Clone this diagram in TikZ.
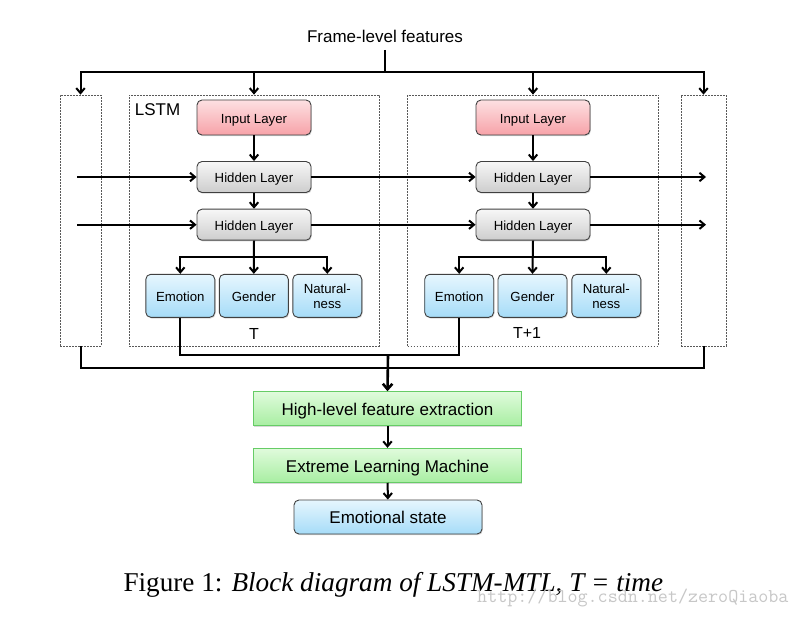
\documentclass[tikz,border=0pt]{standalone}
\usepackage{fontspec}
\setmainfont{Liberation Sans}
\newfontfamily\capfont{Liberation Serif}
\usetikzlibrary{arrows.meta,shadows}
\definecolor{pinkT}{HTML}{FDE0E2}
\definecolor{pinkB}{HTML}{F7A2A8}
\definecolor{grayT}{HTML}{F7F7F7}
\definecolor{grayB}{HTML}{CDCDCD}
\definecolor{blueT}{HTML}{E6F6FE}
\definecolor{blueB}{HTML}{A6DCF8}
\definecolor{greenT}{HTML}{E0FBDC}
\definecolor{greenB}{HTML}{A8EEA2}
\definecolor{greenD}{HTML}{66CC66}
\begin{document}
\begin{tikzpicture}[x=1pt,y=-1pt,
  box/.style={draw=black!75, line width=0.9pt, rounded corners=5pt, inner sep=0pt,
    align=center, font=\fontsize{13.2}{15}\selectfont,
    drop shadow={shadow xshift=0.8pt,shadow yshift=-1.2pt,opacity=0.3}},
  oneline/.style={text height=12.6pt, text depth=1pt},
  bigline/.style={text height=15pt, text depth=1pt},
  inbox/.style={box, oneline, top color=pinkT, bottom color=pinkB, minimum width=114pt, minimum height=35pt},
  hidbox/.style={box, oneline, top color=grayT, bottom color=grayB, minimum width=114pt, minimum height=31pt},
  taskbox/.style={box, top color=blueT, bottom color=blueB, minimum width=69pt, minimum height=43pt},
  greenbox/.style={box, bigline, draw=greenD, rounded corners=0pt, top color=greenT, bottom color=greenB,
    minimum width=268pt, minimum height=34pt, font=\fontsize{17}{20}\selectfont},
  outbox/.style={box, top color=blueT, bottom color=blueB, minimum width=188pt, minimum height=34pt,
    font=\fontsize{17}{20}\selectfont, text height=14pt, text depth=1.4pt},
  dframe/.style={draw=black!65, dash pattern=on 1.8pt off 1.2pt, line width=0.7pt,
    minimum height=251pt, inner sep=0pt},
  lbl/.style={font=\fontsize{17}{20}\selectfont, inner sep=0pt},
  ln/.style={line width=2pt},
  arr/.style={line width=2pt, -{Straight Barb[length=5pt,width=8.5pt]}},
]
\useasboundingbox[fill=white] (0,0) rectangle (799,617);

% dashed frames
\node[dframe, minimum width=41pt] (lbox) at (80.5,220.5) {};
\node[dframe, minimum width=250pt] (lstmA) at (254,220.5) {};
\node[dframe, minimum width=251pt] (lstmB) at (533,220.5) {};
\node[dframe, minimum width=45pt] (rbox) at (703.5,220.5) {};

% labels
\node[lbl] (frame) at (385,36) {Frame-level features};
\node[lbl] (lstmlbl) at (157.5,110) {LSTM};
\node[lbl, font=\fontsize{16}{18}\selectfont] (tA) at (254,334) {T};
\node[lbl, font=\fontsize{16}{18}\selectfont] (tB) at (527,333) {T+1};

% boxes
\node[inbox] (inA) at (254,117.5) {Input Layer};
\node[inbox] (inB) at (533,117.5) {Input Layer};
\node[hidbox] (hA1) at (254,177) {Hidden Layer};
\node[hidbox] (hA2) at (254,224.7) {Hidden Layer};
\node[hidbox] (hB1) at (533,177) {Hidden Layer};
\node[hidbox] (hB2) at (533,224.7) {Hidden Layer};
\node[taskbox, oneline] (emA) at (180.3,295.8) {Emotion};
\node[taskbox, oneline] (geA) at (253.8,295.8) {Gender};
\node[taskbox] (naA) at (327.3,295.8) {Natural-\\ness};
\node[taskbox, oneline] (emB) at (459.2,295.8) {Emotion};
\node[taskbox, oneline] (geB) at (532.5,295.8) {Gender};
\node[taskbox] (naB) at (606.3,295.8) {Natural-\\ness};
\node[greenbox] (hl) at (387.5,408.7) {High-level feature extraction};
\node[greenbox] (elm) at (387.5,465.3) {Extreme Learning Machine};
\node[outbox] (es) at (388,517) {Emotional state};

% coordinates
\coordinate (fs) at (385,50);
\coordinate (bus) at (385,72);
\coordinate (brA) at (254,257);
\coordinate (brB) at (533,257);
\coordinate (inL1) at (77,177);
\coordinate (inL2) at (77,224.7);
\coordinate (outR1) at (706,177);
\coordinate (outR2) at (706,224.7);
\coordinate (j1) at (388,355);
\coordinate (j2) at (388,368);

% top bus
\draw[ln] (fs) -- (bus);
\draw[arr] (bus) -| (lbox.north);
\draw[arr] (bus) -| (rbox.north);
\draw[arr] (bus) -| (lstmA.north);
\draw[arr] (bus) -| (lstmB.north);

% vertical flow inside LSTMs
\draw[arr] (inA) -- (hA1);
\draw[arr] (hA1) -- (hA2);
\draw[arr] (inB) -- (hB1);
\draw[arr] (hB1) -- (hB2);
\draw[arr] (hA2.south) -- (geA.north);
\draw[ln] (hA2.south) -- (brA);
\draw[arr] (brA) -| (emA.north);
\draw[arr] (brA) -| (naA.north);
\draw[arr] (hB2.south) -- (geB.north);
\draw[ln] (hB2.south) -- (brB);
\draw[arr] (brB) -| (emB.north);
\draw[arr] (brB) -| (naB.north);

% recurrent connections
\draw[arr] (inL1) -- (hA1.west);
\draw[arr] (inL2) -- (hA2.west);
\draw[arr] (hA1.east) -- (hB1.west);
\draw[arr] (hA2.east) -- (hB2.west);
\draw[arr] (hB1.east) -- (outR1);
\draw[arr] (hB2.east) -- (outR2);

% bottom collection
\draw[ln] (emA.south) |- (j1);
\draw[ln] (emB.south) |- (j1);
\draw[ln] (lbox.south) |- (j2);
\draw[ln] (rbox.south) |- (j2);
\draw[line width=2.6pt, -{Straight Barb[length=5.5pt,width=9.5pt]}] (j1) -- (hl.north);
\draw[arr] (hl) -- (elm);
\draw[arr] (elm) -- (es);

% caption
\node[anchor=base west, inner sep=0pt, font=\capfont\fontsize{27.2}{30}\selectfont] (cap) at (123.3,591)
  {Figure 1: \textit{Block diagram of LSTM-MTL, T = time}};
\node[anchor=west, inner sep=0pt, font=\ttfamily\fontsize{19.5}{20}\selectfont, text=black!22] (wm) at (477,598)
  {http://blog.csdn.net/zeroQiaoba};
\end{tikzpicture}
\end{document}
